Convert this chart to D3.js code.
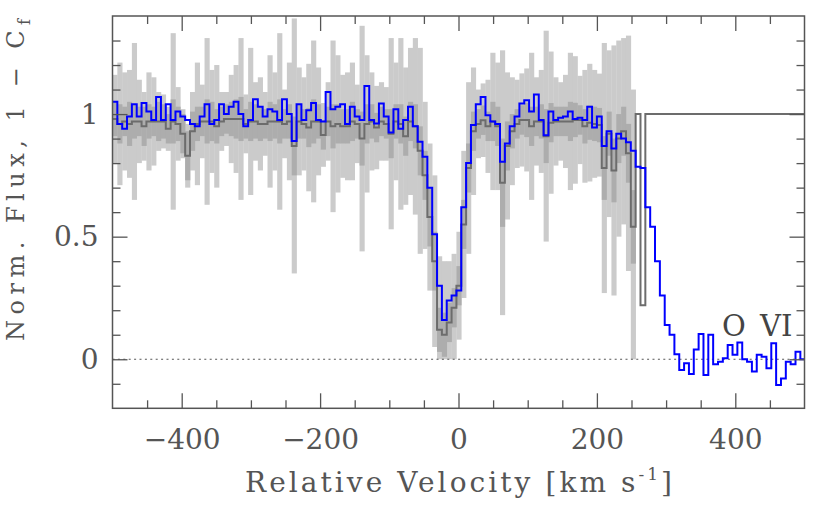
<!DOCTYPE html>
<html>
<head>
<meta charset="utf-8">
<script src="https://cdn.jsdelivr.net/npm/d3@7"></script>
<style>
  body { margin: 0; background: #fff; }
  svg { display: block; }
</style>
</head>
<body>
<svg id="chart"></svg>
<script>
// velocity grid: bins of 7 km/s starting at -500
const binWidth = 7;
const vStart = -500;

// normalized flux (blue)
const flux = [
  1.05, 0.96, 0.94, 0.99, 1.04, 0.99, 1.045, 1.01, 0.976, 1.07,
  0.976, 1.04, 0.976, 1.01, 0.99, 0.976, 0.96, 0.95, 0.99, 1.04,
  0.96, 0.976, 1.04, 1.0, 1.03, 1.05, 1.0, 0.95, 0.976, 1.06,
  1.03, 0.99, 1.02, 1.01, 0.976, 1.06, 1.0, 0.89, 1.04, 0.976,
  1.016, 1.045, 0.976, 0.97, 1.09, 1.02, 1.03, 1.04, 0.96, 1.03,
  0.99, 0.976, 1.114, 0.976, 0.962, 1.043, 0.99, 0.925, 1.02, 0.94,
  0.976, 1.03, 0.95, 0.887, 0.826, 0.70, 0.51, 0.30, 0.16, 0.24,
  0.26, 0.28, 0.62, 0.80, 0.955, 1.04, 1.07, 0.995, 0.97, 0.96,
  0.806, 0.88, 0.95, 0.99, 1.043, 1.056, 1.01, 1.08, 0.976, 0.914,
  1.01, 0.976, 0.985, 0.99, 1.01, 0.98, 0.985, 0.976, 1.03, 0.945,
  0.99, 0.87, 0.93, 0.86, 0.92, 0.90, 0.885, 0.85, 0.785, 0.78,
  0.62, 0.54, 0.40, 0.26, 0.14, 0.10, 0.02, -0.044, -0.016, -0.06,
  0.04, 0.103, -0.064, 0.10, -0.02, -0.01, 0.004, 0.058, 0.018, 0.068,
  0.0, -0.01, -0.05, 0.018, 0.01, -0.037, 0.065, -0.105, -0.078, -0.01,
  -0.02, 0.031, 0.0
];

// 1 - Cf (dark gray line)
const cover = [
  0.98, 0.96, 0.97, 0.96, 0.97, 0.97, 0.95, 0.97, 0.97, 0.97,
  0.97, 0.94, 0.97, 0.96, 0.92, 0.83, 0.93, 0.96, 0.97, 0.97,
  0.97, 0.95, 0.97, 0.98, 0.98, 0.98, 0.98, 0.96, 0.97, 0.97,
  0.96, 0.96, 0.97, 0.97, 0.97, 0.96, 0.97, 0.87, 0.97, 0.96,
  0.945, 0.97, 0.97, 0.915, 0.97, 0.95, 0.96, 0.95, 0.95, 0.97,
  0.96, 0.90, 0.96, 0.97, 0.945, 0.97, 0.96, 0.92, 0.97, 0.96,
  0.91, 0.97, 0.95, 0.85, 0.75, 0.58, 0.40, 0.12, 0.10, 0.15,
  0.21, 0.30, 0.55, 0.78, 0.93, 0.96, 0.975, 0.95, 0.97, 0.95,
  0.72, 0.87, 0.93, 0.96, 0.976, 0.976, 0.95, 0.97, 0.97, 0.91,
  0.965, 0.97, 0.97, 0.97, 0.97, 0.976, 0.976, 0.95, 0.965, 0.96,
  0.955, 0.78, 0.92, 0.77, 0.90, 0.93, 0.84, 0.54, 1.0, 0.22,
  1.0, 1.0, 1.0, 1.0, 1.0, 1.0, 1.0, 1.0, 1.0, 1.0,
  1.0, 1.0, 1.0, 1.0, 1.0, 1.0, 1.0, 1.0, 1.0, 1.0,
  1.0, 1.0, 1.0, 1.0, 1.0, 1.0, 1.0, 1.0, 1.0, 1.0,
  1.0, 1.0, 1.0
];

// wide error (light gray), half-width
const errWide = [
  0.18, 0.25, 0.20, 0.22, 0.32, 0.17, 0.14, 0.20, 0.18, 0.12,
  0.11, 0.09, 0.36, 0.15, 0.10, 0.13, 0.16, 0.25, 0.15, 0.34,
  0.21, 0.25, 0.12, 0.11, 0.18, 0.22, 0.33, 0.12, 0.30, 0.16,
  0.19, 0.13, 0.27, 0.20, 0.36, 0.14, 0.24, 0.52, 0.22, 0.19,
  0.26, 0.33, 0.22, 0.13, 0.16, 0.35, 0.28, 0.21, 0.22, 0.24,
  0.16, 0.46, 0.28, 0.20, 0.17, 0.16, 0.15, 0.39, 0.24, 0.35,
  0.28, 0.30, 0.36, 0.42, 0.30, 0.30, 0.35, 0.30, 0.30, 0.25,
  0.22, 0.22, 0.30, 0.35, 0.26, 0.14, 0.15, 0.19, 0.28, 0.26,
  0.54, 0.30, 0.22, 0.18, 0.19, 0.21, 0.30, 0.18, 0.21, 0.43,
  0.29, 0.18, 0.16, 0.19, 0.28, 0.26, 0.18, 0.23, 0.24, 0.22,
  0.21, 0.51, 0.34, 0.51, 0.40, 0.38, 0.48, 0.56, 0, 0,
  0, 0, 0, 0, 0, 0, 0, 0, 0, 0,
  0, 0, 0, 0, 0, 0, 0, 0, 0, 0,
  0, 0, 0, 0, 0, 0, 0, 0, 0, 0,
  0, 0, 0
];

// narrow error (darker gray), half-width
const errNarrow = [
  0.07, 0.08, 0.06, 0.09, 0.07, 0.06, 0.08, 0.07, 0.06, 0.08,
  0.07, 0.06, 0.09, 0.07, 0.08, 0.10, 0.08, 0.07, 0.06, 0.09,
  0.08, 0.07, 0.06, 0.06, 0.07, 0.08, 0.09, 0.06, 0.08, 0.07,
  0.07, 0.06, 0.08, 0.07, 0.09, 0.06, 0.07, 0.12, 0.07, 0.06,
  0.08, 0.09, 0.07, 0.06, 0.06, 0.09, 0.08, 0.07, 0.07, 0.08,
  0.06, 0.11, 0.08, 0.07, 0.06, 0.06, 0.06, 0.10, 0.07, 0.08,
  0.08, 0.08, 0.09, 0.10, 0.10, 0.12, 0.12, 0.09, 0.09, 0.08,
  0.08, 0.08, 0.10, 0.10, 0.08, 0.06, 0.06, 0.06, 0.08, 0.08,
  0.18, 0.10, 0.07, 0.06, 0.06, 0.07, 0.08, 0.06, 0.07, 0.11,
  0.08, 0.06, 0.06, 0.06, 0.08, 0.07, 0.06, 0.07, 0.07, 0.07,
  0.07, 0.13, 0.09, 0.13, 0.10, 0.10, 0.12, 0.15, 0, 0,
  0, 0, 0, 0, 0, 0, 0, 0, 0, 0,
  0, 0, 0, 0, 0, 0, 0, 0, 0, 0,
  0, 0, 0, 0, 0, 0, 0, 0, 0, 0,
  0, 0, 0
];

const xMajor = [-400, -200, 0, 200, 400];
const xMajorLabels = ["\u2212400", "\u2212200", "0", "200", "400"];
const yMajor = [0, 0.5, 1];
const yMajorLabels = ["0", "0.5", "1"];

const width = 822, height = 505;
const pLeft = 112.5, pRight = 804.5, pTop = 16, pBottom = 408.3;
const ink = "#555";

const x = d3.scaleLinear().domain([-500, 500]).range([pLeft, pRight]);
const y = d3.scaleLinear().domain([-0.2, 1.4]).range([pBottom, pTop]);

const edges = flux.map((d, i) => vStart + i * binWidth);
const bins = edges.map((v, i) => ({
  v0: v, v1: v + binWidth,
  flux: flux[i], cover: cover[i], wide: errWide[i], narrow: errNarrow[i]
}));

const svg = d3.select("#chart")
    .attr("width", width)
    .attr("height", height)
    .attr("font-family", "'DejaVu Serif', serif");

svg.append("rect").attr("width", width).attr("height", height).attr("fill", "#fff");

svg.append("clipPath").attr("id", "plot")
  .append("rect")
    .attr("x", pLeft).attr("y", pTop)
    .attr("width", pRight - pLeft).attr("height", pBottom - pTop);

const g = svg.append("g").attr("clip-path", "url(#plot)");

// light gray error bars
g.append("g")
  .selectAll("rect")
  .data(bins.filter(d => d.wide > 0))
  .join("rect")
    .attr("x", d => x(d.v0))
    .attr("width", d => x(d.v1) - x(d.v0) + 0.3)
    .attr("y", d => y(d.cover + d.wide))
    .attr("height", d => y(Math.max(0, d.cover - d.wide)) - y(d.cover + d.wide))
    .attr("fill", "#cbcbcb");

// darker gray error bars
g.append("g")
  .selectAll("rect")
  .data(bins.filter(d => d.narrow > 0))
  .join("rect")
    .attr("x", d => x(d.v0))
    .attr("width", d => x(d.v1) - x(d.v0) + 0.3)
    .attr("y", d => y(d.cover + d.narrow))
    .attr("height", d => y(Math.max(0, d.cover - d.narrow)) - y(d.cover + d.narrow))
    .attr("fill", "#adadad");

// zero line
g.append("line")
    .attr("x1", pLeft).attr("x2", pRight)
    .attr("y1", y(0)).attr("y2", y(0))
    .attr("stroke", ink)
    .attr("stroke-width", 1)
    .attr("stroke-dasharray", "2,3.4");

const stepData = key => {
  const pts = bins.map(d => [d.v0, d[key]]);
  const last = bins[bins.length - 1];
  pts.push([last.v1, last[key]]);
  return pts;
};

const line = d3.line()
    .x(d => x(d[0]))
    .y(d => y(d[1]))
    .curve(d3.curveStepAfter);

g.append("path")
    .attr("d", line(stepData("cover")))
    .attr("fill", "none")
    .attr("stroke", "#6c6c6c")
    .attr("stroke-width", 2);

g.append("path")
    .attr("d", line(stepData("flux")))
    .attr("fill", "none")
    .attr("stroke", "#0000ff")
    .attr("stroke-width", 2);

// axes (ticks pointing inward on all four sides)
const styleAxis = sel => {
  sel.select(".domain").remove();
  sel.selectAll(".tick line").attr("stroke", ink).attr("stroke-width", 1.3);
  sel.selectAll("text").attr("fill", ink).attr("font-size", 28)
     .attr("font-family", "'DejaVu Serif', serif");
};

const xMinor = d3.range(-450, 500, 50).filter(v => !xMajor.includes(v));
const yMinor = d3.range(-1, 14).map(k => k / 10).filter(v => !yMajor.includes(v));

svg.append("g").attr("transform", `translate(0,${pBottom})`)
  .call(d3.axisBottom(x).tickValues(xMajor).tickSize(-15).tickPadding(21)
        .tickFormat((d, i) => xMajorLabels[i]))
  .call(styleAxis);
svg.append("g").attr("transform", `translate(0,${pBottom})`)
  .call(d3.axisBottom(x).tickValues(xMinor).tickSize(-8).tickFormat(""))
  .call(styleAxis);
svg.append("g").attr("transform", `translate(0,${pTop})`)
  .call(d3.axisTop(x).tickValues(xMajor).tickSize(-15).tickFormat(""))
  .call(styleAxis);
svg.append("g").attr("transform", `translate(0,${pTop})`)
  .call(d3.axisTop(x).tickValues(xMinor).tickSize(-8).tickFormat(""))
  .call(styleAxis);

svg.append("g").attr("transform", `translate(${pLeft},0)`)
  .call(d3.axisLeft(y).tickValues(yMajor).tickSize(-15).tickPadding(14)
        .tickFormat((d, i) => yMajorLabels[i]))
  .call(styleAxis);
svg.append("g").attr("transform", `translate(${pLeft},0)`)
  .call(d3.axisLeft(y).tickValues(yMinor).tickSize(-8).tickFormat(""))
  .call(styleAxis);
svg.append("g").attr("transform", `translate(${pRight},0)`)
  .call(d3.axisRight(y).tickValues(yMajor).tickSize(-15).tickFormat(""))
  .call(styleAxis);
svg.append("g").attr("transform", `translate(${pRight},0)`)
  .call(d3.axisRight(y).tickValues(yMinor).tickSize(-8).tickFormat(""))
  .call(styleAxis);

// frame
svg.append("rect")
    .attr("x", pLeft).attr("y", pTop)
    .attr("width", pRight - pLeft).attr("height", pBottom - pTop)
    .attr("fill", "none")
    .attr("stroke", ink)
    .attr("stroke-width", 1.5);

// axis titles
const xt = svg.append("text")
    .attr("x", (pLeft + pRight) / 2)
    .attr("y", 492)
    .attr("text-anchor", "middle")
    .attr("font-size", 28)
    .attr("fill", ink)
    .attr("textLength", 427)
    .attr("lengthAdjust", "spacing");
xt.append("tspan").text("Relative Velocity [km s");
xt.append("tspan").attr("font-size", 17).attr("dy", -12).text("-1");
xt.append("tspan").attr("dy", 12).text("]");

const yt = svg.append("text")
    .attr("transform", "translate(24,180) rotate(-90)")
    .attr("text-anchor", "middle")
    .attr("font-size", 24)
    .attr("fill", ink)
    .attr("textLength", 322)
    .attr("lengthAdjust", "spacing");
yt.append("tspan").text("Norm. Flux, 1 \u2212 C");
yt.append("tspan").attr("font-size", 16).attr("dy", 6).text("f");

// ion label
const ion = svg.append("text")
    .attr("y", 336)
    .attr("font-size", 29)
    .attr("fill", "#444");
ion.append("tspan").attr("x", 722).text("O");
ion.append("tspan").attr("x", 760).text("VI");
</script>
</body>
</html>
